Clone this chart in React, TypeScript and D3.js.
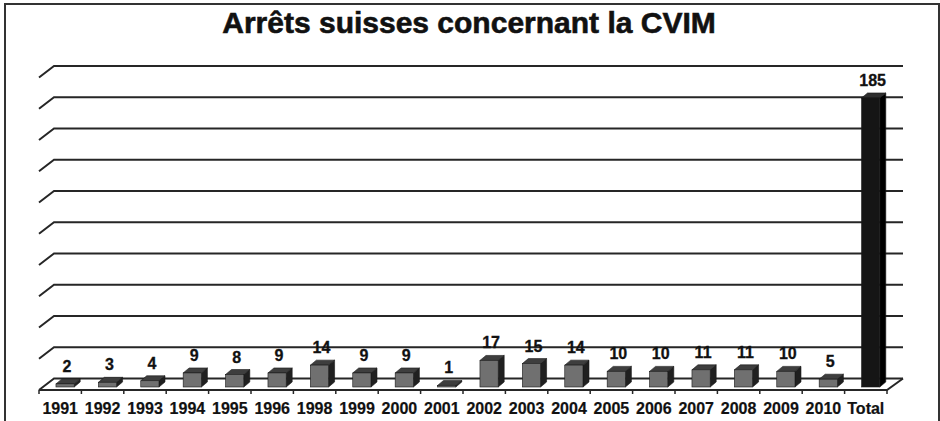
import { useEffect, useRef } from 'react'
import * as d3 from 'd3'

const categories = ['1991', '1992', '1993', '1994', '1995', '1996', '1998', '1999', '2000', '2001',
  '2002', '2003', '2004', '2005', '2006', '2007', '2008', '2009', '2010', 'Total']
const values = [2, 3, 4, 9, 8, 9, 14, 9, 9, 1, 17, 15, 14, 10, 10, 11, 11, 10, 5, 185]
const gridValues = [0, 20, 40, 60, 80, 100, 120, 140, 160, 180, 200]
const title = 'Arrêts suisses concernant la CVIM'

const FONT = '"Liberation Sans", Arial, Helvetica, sans-serif'

export default function App() {
  const svgRef = useRef<SVGSVGElement>(null)

  useEffect(() => {
    if (!svgRef.current) return
    document.body.style.margin = '0'
    const svg = d3.select(svgRef.current)
    svg.selectAll('*').remove()

    const width = 940
    const height = 421
    // floor / wall geometry (pseudo 3D)
    const left = 39
    const right = 887
    const floorFront = 390
    const depthX = 15
    const depthY = 11.5

    const x = d3.scaleBand<string>().domain(categories).range([left, right]).padding(0)
    // back wall values
    const yBack = d3.scaleLinear().domain([0, 200]).range([floorFront - depthY, 66])
    // bar front face values
    const barBase = 387
    const yFront = d3.scaleLinear().domain([0, 200]).range([barBase, barBase - (yBack(0) - yBack(200))])

    svg.append('rect')
      .attr('width', width)
      .attr('height', height)
      .attr('fill', '#fff')

    // outer frame
    svg.append('rect')
      .attr('x', 5)
      .attr('y', 4)
      .attr('width', 934)
      .attr('height', 430)
      .attr('fill', 'none')
      .attr('stroke', '#333')
      .attr('stroke-width', 2)

    svg.append('text')
      .attr('x', 469)
      .attr('y', 33)
      .attr('text-anchor', 'middle')
      .attr('font-family', FONT)
      .attr('font-weight', 'bold')
      .attr('font-size', 30)
      .attr('fill', '#111')
      .attr('stroke', '#111')
      .attr('stroke-width', 0.6)
      .text(title)

    // gridlines on back wall + left wall stubs
    const grid = svg.append('g')
      .attr('stroke', '#262626')
      .attr('stroke-width', 2)
      .attr('fill', 'none')
    gridValues.forEach(v => {
      const y = yBack(v)
      grid.append('path')
        .attr('d', `M${left},${y + depthY}L${left + depthX},${y}L${right + depthX + 1},${y}`)
    })

    // floor front edge and right edge
    grid.append('path')
      .attr('d', `M${left},${floorFront}L${right},${floorFront}L${right + depthX + 1},${floorFront - depthY}`)

    // category ticks
    const ticks = [...categories.map(c => x(c) as number), right]
    svg.append('g')
      .attr('stroke', '#262626')
      .attr('stroke-width', 1.5)
      .selectAll('line')
      .data(ticks)
      .join('line')
      .attr('x1', d => d)
      .attr('x2', d => d)
      .attr('y1', floorFront)
      .attr('y2', floorFront + 4)

    // bars
    const bw = x.bandwidth()
    const faceW = bw * 0.43
    const bdx = 6
    const bdy = 5
    const bars = svg.append('g')
    categories.forEach((c, i) => {
      const v = values[i]
      const isTotal = c === 'Total'
      const x0 = (x(c) as number) + bw * 0.4
      const x1 = x0 + faceW
      const yt = yFront(v)
      const yb = barBase
      const cols = isTotal
        ? { front: '#151515', side: '#000', top: '#2e2e2e' }
        : { front: '#707070', side: '#202020', top: '#3e3e3e' }
      const g = bars.append('g').attr('stroke', '#1a1a1a').attr('stroke-width', 0.6)
      g.append('path')
        .attr('d', `M${x1},${yt}L${x1 + bdx},${yt - bdy}L${x1 + bdx},${yb - bdy}L${x1},${yb}Z`)
        .attr('fill', cols.side)
      g.append('path')
        .attr('d', `M${x0},${yt}L${x0 + bdx},${yt - bdy}L${x1 + bdx},${yt - bdy}L${x1},${yt}Z`)
        .attr('fill', cols.top)
      g.append('rect')
        .attr('x', x0)
        .attr('y', yt)
        .attr('width', faceW)
        .attr('height', Math.max(yb - yt, 0.5))
        .attr('fill', cols.front)

      svg.append('text')
        .attr('x', (x0 + x1) / 2 + 2)
        .attr('y', yt - bdy - 7)
        .attr('text-anchor', 'middle')
        .attr('font-family', FONT)
        .attr('font-weight', 'bold')
        .attr('font-size', 16)
        .attr('fill', '#111')
        .attr('stroke', '#111')
        .attr('stroke-width', 0.3)
        .text(v)
    })

    // category labels
    svg.append('g')
      .selectAll('text')
      .data(categories)
      .join('text')
      .attr('x', d => (x(d) as number) + bw / 2)
      .attr('y', 414)
      .attr('text-anchor', 'middle')
      .attr('font-family', FONT)
      .attr('font-weight', 'bold')
      .attr('font-size', 16)
      .attr('fill', '#111')
      .attr('stroke', '#111')
      .attr('stroke-width', 0.2)
      .text(d => d)
  }, [])

  return (
    <svg
      ref={svgRef}
      width={940}
      height={421}
      style={{ display: 'block', position: 'absolute', left: 0, top: 0 }}
    />
  )
}
